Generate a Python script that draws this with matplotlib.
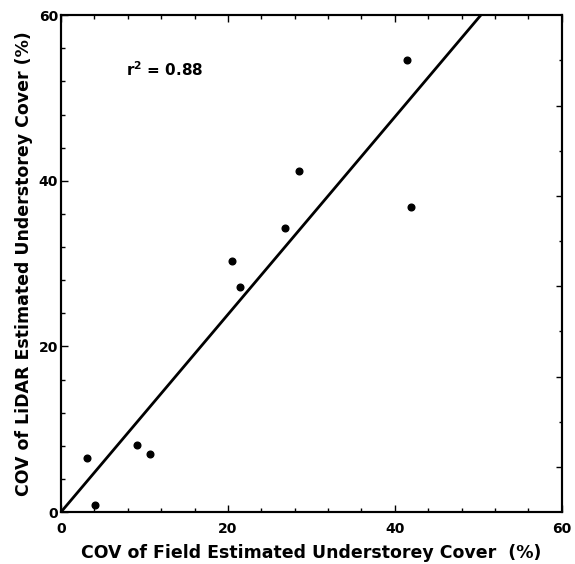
import numpy as np
import matplotlib
matplotlib.use("Agg")
import matplotlib.pyplot as plt
from matplotlib.ticker import MultipleLocator, FixedLocator, NullFormatter

# field vs LiDAR COV values
field_cov = [3.1, 4.1, 9.1, 10.7, 20.5, 21.4, 26.9, 28.5, 41.4, 41.9]
lidar_cov = [6.5, 0.85, 8.1, 7.0, 30.3, 27.2, 34.3, 41.2, 54.6, 36.8]
fit_slope = 1.193
fit_intercept = 0.0
fit_x = [0.0, 60.0]
r2_text = "r$^\\mathregular{2}$ = 0.88"

plt.rcParams['font.family'] = ['DejaVu Sans']
plt.rcParams['font.weight'] = 'bold'

fig = plt.figure(figsize=(5.75, 5.64), dpi=100)
ax = fig.add_axes([0.106, 0.092, 0.871, 0.881])

fx = np.array(fit_x)
ax.plot(fx, fit_slope * fx + fit_intercept, color='black', lw=2.0,
        solid_capstyle='butt')
ax.plot(field_cov, lidar_cov, 'o', color='black', ms=4.8)
ax.text(7.8, 53.4, r2_text, fontsize=11, fontweight='bold', va='center')

ax.set_xlim(0, 60)
ax.set_ylim(0, 60)
ax.xaxis.set_major_locator(MultipleLocator(20))
ax.xaxis.set_minor_locator(MultipleLocator(4))
ax.yaxis.set_major_locator(MultipleLocator(20))
ax.yaxis.set_minor_locator(MultipleLocator(4))
ax.tick_params(which='both', direction='in', top=True, right=False,
               width=1.0, labelsize=10)
ax.tick_params(axis='x', pad=7)
ax.tick_params(axis='y', pad=2)
ax.tick_params(which='major', length=5)
ax.tick_params(which='minor', length=3)
for lab in ax.get_xticklabels() + ax.get_yticklabels():
    lab.set_fontweight('bold')
for sp in ax.spines.values():
    sp.set_linewidth(1.5)

# right axis has its own tick spacing in the original
ax2 = ax.twinx()
ax2.set_ylim(0, 11)
ax2.yaxis.set_major_locator(FixedLocator([1, 3, 5, 7, 9]))
ax2.yaxis.set_minor_locator(FixedLocator([2, 4, 6, 8, 10]))
ax2.yaxis.set_major_formatter(NullFormatter())
ax2.tick_params(which='both', direction='in', width=1.0)
ax2.tick_params(which='major', length=4)
ax2.tick_params(which='minor', length=2.5)
for sp in ax2.spines.values():
    sp.set_linewidth(1.5)

ax.set_xlabel("COV of Field Estimated Understorey Cover  (%)",
              fontsize=12.5, fontweight='bold', labelpad=6)
ax.set_ylabel("COV of LiDAR Estimated Understorey Cover (%)",
              fontsize=12.5, fontweight='bold', labelpad=4)

fig.savefig("out.png", dpi=100)
